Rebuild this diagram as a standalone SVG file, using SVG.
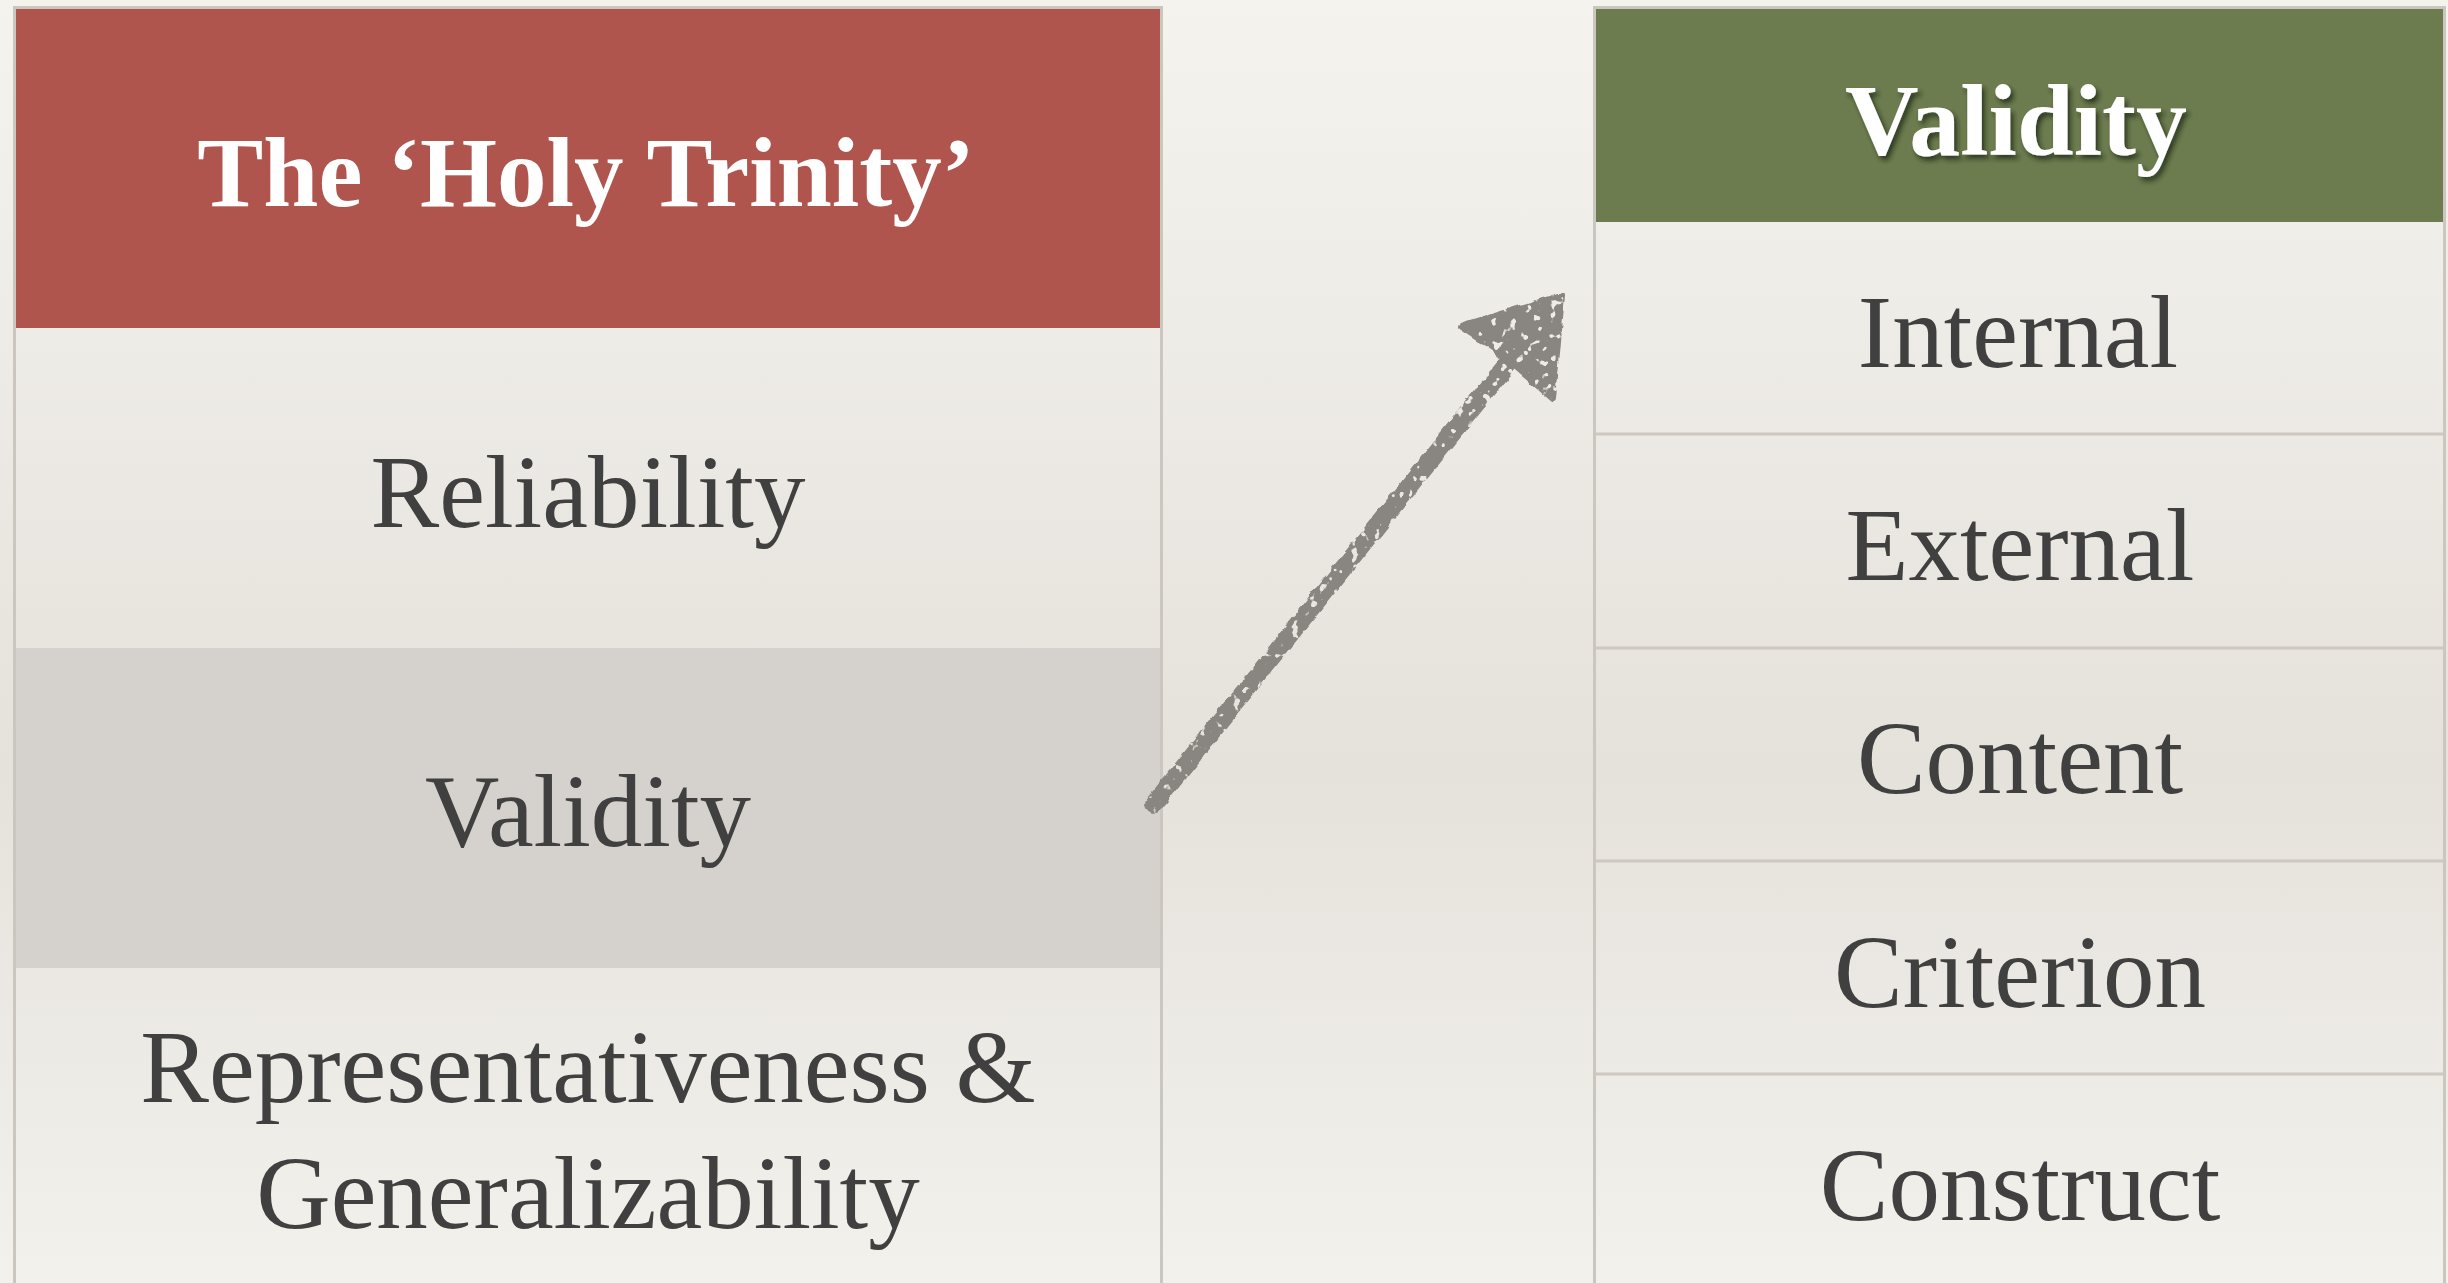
<svg xmlns="http://www.w3.org/2000/svg" width="2448" height="1283" viewBox="0 0 2448 1283">
  <defs>
    <linearGradient id="paper" x1="0" y1="0" x2="0" y2="1">
      <stop offset="0" stop-color="#f5f3ee"/>
      <stop offset="0.6" stop-color="#e5e2dc"/>
      <stop offset="1" stop-color="#f3f1ec"/>
    </linearGradient>
    <filter id="chalk" x="-10%" y="-10%" width="120%" height="120%">
      <feTurbulence type="fractalNoise" baseFrequency="0.08" numOctaves="2" seed="4" result="n"/>
      <feDisplacementMap in="SourceGraphic" in2="n" scale="6" xChannelSelector="R" yChannelSelector="G" result="d"/>
      <feTurbulence type="fractalNoise" baseFrequency="0.12" numOctaves="2" seed="9" result="h"/>
      <feColorMatrix in="h" type="matrix" values="0 0 0 0 0  0 0 0 0 0  0 0 0 0 0  -14 0 0 0 9.8" result="holes"/>
      <feComposite in="d" in2="holes" operator="in"/>
    </filter>
    <filter id="lift" x="-10%" y="-20%" width="130%" height="150%">
      <feDropShadow dx="3" dy="4" stdDeviation="2.5" flood-color="#1e2412" flood-opacity="0.75"/>
    </filter>
    <style>
      .frame { fill: none; stroke: #cbc6be; stroke-width: 3; }
      .sep { stroke: #cdc8c0; stroke-width: 3; }
      .head { font-family: "Liberation Serif", "DejaVu Serif", serif; font-weight: bold; fill: #ffffff; text-anchor: middle; }
      .cell { font-family: "Liberation Serif", "DejaVu Serif", serif; font-size: 103px; fill: #404040; text-anchor: middle; }
    </style>
  </defs>

  <!-- paper background -->
  <rect x="0" y="0" width="2448" height="1283" fill="url(#paper)"/>

  <!-- left table: the three criteria -->
  <g id="trinity-table">
    <g id="trinity-header">
      <rect x="16" y="9" width="1144" height="319" fill="#b0554e"/>
      <text class="head" x="586" y="206" font-size="99">The ‘Holy Trinity’</text>
    </g>
    <g id="row-reliability">
      <text class="cell" x="588" y="527">Reliability</text>
    </g>
    <g id="row-validity">
      <rect x="16" y="648" width="1144" height="320" fill="#d5d1cc"/>
      <text class="cell" x="588" y="846">Validity</text>
    </g>
    <g id="row-representativeness">
      <text class="cell" x="588" y="1102">Representativeness &amp;</text>
      <text class="cell" x="588" y="1228">Generalizability</text>
    </g>
    <rect class="frame" x="14.5" y="7.5" width="1147" height="1290"/>
  </g>

  <!-- right table: kinds of validity -->
  <g id="validity-table">
    <g id="validity-header">
      <rect x="1596" y="9" width="847" height="213" fill="#6c7c4f"/>
      <text class="head" x="2016" y="155" font-size="102" filter="url(#lift)">Validity</text>
    </g>
    <g id="row-internal">
      <text class="cell" x="2018" y="367">Internal</text>
    </g>
    <g id="row-external">
      <line class="sep" x1="1596" y1="434" x2="2443" y2="434"/>
      <text class="cell" x="2020" y="580">External</text>
    </g>
    <g id="row-content">
      <line class="sep" x1="1596" y1="648" x2="2443" y2="648"/>
      <text class="cell" x="2020" y="793">Content</text>
    </g>
    <g id="row-criterion">
      <line class="sep" x1="1596" y1="861" x2="2443" y2="861"/>
      <text class="cell" x="2020" y="1007">Criterion</text>
    </g>
    <g id="row-construct">
      <line class="sep" x1="1596" y1="1074" x2="2443" y2="1074"/>
      <text class="cell" x="2020" y="1220">Construct</text>
    </g>
    <rect class="frame" x="1594.5" y="7.5" width="850" height="1290"/>
  </g>

  <!-- connectors -->
  <g id="connectors">
    <g id="arrow-validity" fill="#898580" stroke="#898580" filter="url(#chalk)">
      <line x1="1154" y1="804" x2="1512" y2="358" stroke-width="18" stroke-linecap="round"/>
      <polygon points="1562,295 1461,326 1494,348 1553,399" stroke-width="6" stroke-linejoin="round"/>
    </g>
  </g>
</svg>
